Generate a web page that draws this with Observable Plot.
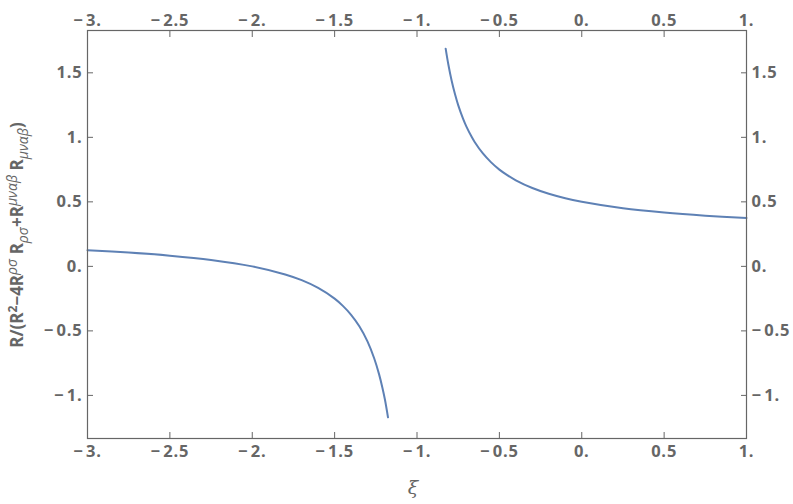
<!DOCTYPE html>
<html>
<head>
<meta charset="utf-8">
<script src="https://cdn.jsdelivr.net/npm/d3@7"></script>
<script src="https://cdn.jsdelivr.net/npm/@observablehq/plot@0.6"></script>
<style>
  html, body { margin: 0; padding: 0; background: #fff; }
  #chart svg { display: block; }
</style>
</head>
<body>
<div id="chart"></div>
<script>
// Values
const leftXi = [-3, -2.75, -2.5, -2.25, -2, -1.8, -1.7, -1.6, -1.5, -1.45, -1.4, -1.35, -1.3, -1.26, -1.23, -1.21, -1.195, -1.176];
const leftY  = [0.125, 0.107, 0.083, 0.05, 0.0, -0.0625, -0.107, -0.167, -0.25, -0.306, -0.375, -0.464, -0.583, -0.712, -0.837, -0.94, -1.03, -1.17];
const rightXi = [-0.826, -0.81, -0.79, -0.77, -0.75, -0.72, -0.7, -0.67, -0.65, -0.6, -0.55, -0.5, -0.45, -0.4, -0.3, -0.2, -0.1, 0, 0.25, 0.5, 0.75, 1];
const rightY  = [1.687, 1.566, 1.44, 1.337, 1.25, 1.143, 1.083, 1.008, 0.964, 0.875, 0.806, 0.75, 0.705, 0.667, 0.607, 0.5625, 0.528, 0.5, 0.45, 0.417, 0.393, 0.375];

const xTicks = [-3, -2.5, -2, -1.5, -1, -0.5, 0, 0.5, 1];
const xTickLabels = ["−\u200A3.", "−\u200A2.5", "−\u200A2.", "−\u200A1.5", "−\u200A1.", "−\u200A0.5", "0.", "0.5", "1."];
const yTicks = [-1, -0.5, 0, 0.5, 1, 1.5];
const yTickLabels = ["−\u200A1.", "−\u200A0.5", "0.", "0.5", "1.", "1.5"];

const data = [
  ...leftXi.map((x, i) => ({xi: x, y: leftY[i], branch: "left"})),
  ...rightXi.map((x, i) => ({xi: x, y: rightY[i], branch: "right"}))
];

const fmtX = d => xTickLabels[xTicks.findIndex(t => Math.abs(t - d) < 1e-9)];
const fmtY = d => yTickLabels[yTicks.findIndex(t => Math.abs(t - d) < 1e-9)];

const gray = "#666";
const font = "'Open Sans', 'DejaVu Sans', sans-serif";
const axisCommon = {tickSize: -6, stroke: gray, fill: gray, label: null};

const plot = Plot.plot({
  width: 793,
  height: 504,
  marginLeft: 87,
  marginRight: 47,
  marginTop: 30,
  marginBottom: 66,
  style: {fontFamily: font, color: gray, background: "#fff"},
  x: {domain: [-3, 1]},
  y: {domain: [-1.334, 1.828]},
  marks: [
    Plot.line(data, {x: "xi", y: "y", z: "branch", stroke: "#5E81B5", strokeWidth: 2, curve: "catmull-rom"}),
    Plot.frame({stroke: gray, strokeWidth: 1.2}),
    Plot.axisX(xTicks, {...axisCommon, anchor: "bottom", tickFormat: fmtX, tickPadding: 13}),
    Plot.axisX(xTicks, {...axisCommon, anchor: "top", tickFormat: fmtX, tickPadding: 11}),
    Plot.axisY(yTicks, {...axisCommon, anchor: "left", tickFormat: fmtY, tickPadding: 11}),
    Plot.axisY(yTicks, {...axisCommon, anchor: "right", tickFormat: fmtY, tickPadding: 11})
  ]
});

document.getElementById("chart").appendChild(plot);

const svg = d3.select(plot);
// enlarge all tick labels
svg.selectAll("text")
  .style("font-size", "16.5px")
  .style("font-weight", "bold")
  .style("letter-spacing", "0.8px")
  .style("font-family", font);

// y-axis label with super/subscripts
const yl = svg.append("text")
  .attr("transform", "translate(23,235) rotate(-90)")
  .attr("text-anchor", "middle")
  .attr("fill", gray)
  .style("font-family", font)
  .style("font-size", "17px")
  .style("font-weight", "bold");
const parts = [
  ["R/(R", 0], ["2", 1], ["−4R", 0], ["ρσ", 2], [" R", 0], ["ρσ", -2],
  ["+R", 0], ["μναβ", 2], [" R", 0], ["μναβ", -2], [")", 0]
];
let base = 0;
parts.forEach(([t, k]) => {
  const ts = yl.append("tspan").text(t);
  let shift = 0;
  if (k === 1) { shift = -6; ts.style("font-size", "12px"); }
  if (k === 2) { shift = -6; ts.style("font-size", "14px").style("font-style", "italic").style("font-weight", "normal"); }
  if (k === -2) { shift = 5; ts.style("font-size", "14px").style("font-style", "italic").style("font-weight", "normal"); }
  ts.attr("dy", shift - base);
  base = shift;
});

// x-axis label
svg.append("text")
  .attr("x", 413)
  .attr("y", 494)
  .attr("text-anchor", "middle")
  .attr("fill", gray)
  .style("font-family", "'DejaVu Serif', 'Liberation Serif', serif")
  .style("font-size", "19px")
  .style("font-style", "italic")
  .text("ξ");
</script>
</body>
</html>
